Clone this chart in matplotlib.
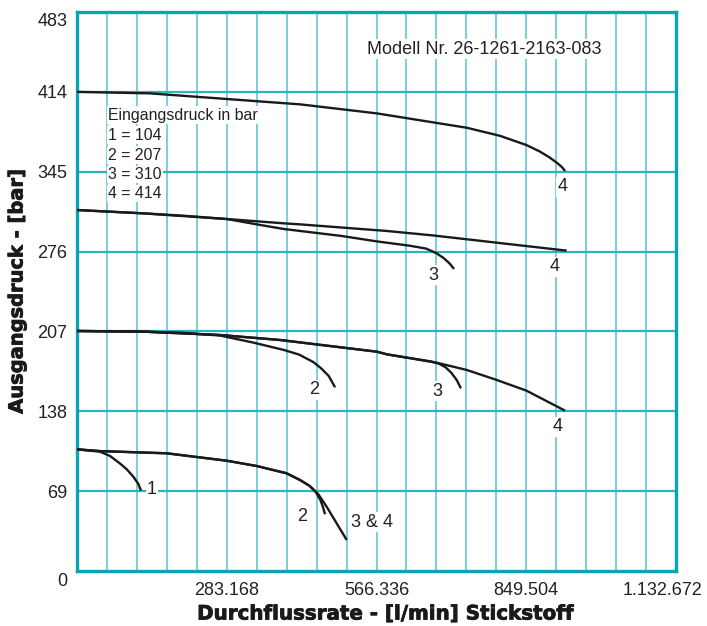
import matplotlib
matplotlib.use("Agg")
import matplotlib.pyplot as plt
import matplotlib.transforms as mtransforms
import matplotlib.patheffects as pe
import numpy as np

plt.rcParams['font.family'] = ['Liberation Sans', 'DejaVu Sans']

# ---- data (flow l/min, outlet pressure bar) ----
# inlet 414 bar
p414_4_x = [0, 138, 308, 422, 567, 737, 800, 850, 875, 893, 908, 917, 923]
p414_4_y = [414, 412.7, 407, 403.2, 395.4, 383, 376, 368, 362.5, 357.5, 352.5, 349, 345.6]
# inlet 310 bar
p310_4_x = [0, 126, 284, 391, 422, 586, 674, 926]
p310_4_y = [311.9, 309, 304.1, 300.4, 299.5, 293.8, 289.9, 276.8]
p310_3_x = [0, 126, 200, 284, 340, 391, 422, 500, 567, 630, 660, 680, 693, 704, 713]
p310_3_y = [311.9, 309, 307, 304.1, 299.5, 295.5, 293.8, 289.5, 284.8, 281, 278.6, 274.5, 270.5, 266, 261]
# inlet 207 bar
p207_4_x = [0, 126, 271, 384, 567, 586, 680, 737, 794, 850, 923]
p207_4_y = [207.4, 206.8, 203.9, 199.6, 189.5, 187.2, 180, 173.7, 165, 155.8, 138.5]
p207_3_x = [0, 126, 271, 384, 567, 586, 670, 685, 697, 708, 718, 726]
p207_3_y = [207.4, 206.8, 203.9, 199.6, 189.5, 187.2, 181, 179, 176, 171.2, 165, 157.8]
p207_2_x = [0, 126, 200, 271, 334, 391, 420, 447, 462, 476, 488]
p207_2_y = [207.4, 206.8, 205.8, 203.4, 197.3, 191, 187, 180.5, 175, 168.5, 158.7]
# inlet 104 bar
p104_34_x = [0, 43.5, 169.6, 283, 340, 396.5, 421.7, 440, 456, 472, 491, 510]
p104_34_y = [105.1, 103.6, 101.7, 95.3, 90.7, 84.4, 78.6, 73.5, 66.5, 55.6, 41.2, 26.8]
p104_2_x = [0, 43.5, 169.6, 283, 340, 396.5, 421.7, 440, 452, 460, 465, 469]
p104_2_y = [105.1, 103.6, 101.7, 95.3, 90.7, 84.4, 78.6, 73.5, 68, 61.5, 55.5, 49]
p104_1_x = [0, 43.5, 62.4, 81, 94, 106.5, 116, 121]
p104_1_y = [105.1, 103.1, 99.4, 93, 87.9, 81.5, 75.2, 69.4]

curves = [
    (p414_4_x, p414_4_y), (p310_4_x, p310_4_y), (p310_3_x, p310_3_y),
    (p207_4_x, p207_4_y), (p207_3_x, p207_3_y), (p207_2_x, p207_2_y),
    (p104_34_x, p104_34_y), (p104_2_x, p104_2_y), (p104_1_x, p104_1_y),
]

curve_labels = ["1", "2", "3 & 4", "2", "3", "4", "3", "4", "4"]
curve_label_x = [141.8, 425.5, 558, 448.8, 681.4, 908.3, 673.8, 904, 918.5]
curve_label_y = [70, 47.5, 42.3, 156.4, 155.5, 124.7, 255.7, 262.9, 332]

x_major = [283.168, 566.336, 849.504, 1132.672]
x_major_labels = ["283.168", "566.336", "849.504", "1.132.672"]
x_step = 56.6336
y_ticks = [0, 69, 138, 207, 276, 345, 414, 483]
y_tick_labels = ["0", "69", "138", "207", "276", "345", "414", "483"]

legend_lines = ["Eingangsdruck in bar", "1 = 104", "2 = 207", "3 = 310", "4 = 414"]
model_text = "Modell Nr. 26-1261-2163-083"

# ---- figure ----
W, H = 707, 626
fig = plt.figure(figsize=(W / 100, H / 100), dpi=100)
ax = fig.add_axes([77 / W, 1 - 571 / H, (676 - 77) / W, (571 - 12) / H])
ax.set_xlim(0, 1132.672)
ax.set_ylim(0, 483)

minor = [x_step * k for k in range(1, 20)]
ax.set_xticks(x_major)
ax.set_xticklabels(x_major_labels)
ax.set_xticks(minor, minor=True)
ax.set_yticks(y_ticks)
ax.set_yticklabels(y_tick_labels)

for xv in minor:
    ax.axvline(xv, color='#6fcdd5', lw=1.3, zorder=1)
for yv in y_ticks[1:-1]:
    ax.axhline(yv, color='#2cb4c0', lw=1.6, zorder=1)

for s in ax.spines.values():
    s.set_color('#0aa5b3')
    s.set_linewidth(2.4)

ax.tick_params(axis='both', which='both', length=0, labelsize=13, colors='#222222')
ax.tick_params(axis='y', pad=7)
ax.tick_params(axis='x', pad=8)

# shift end labels like in reference
yl = ax.get_yticklabels()
off_top = mtransforms.ScaledTranslation(0, -7 / 100, fig.dpi_scale_trans)
off_bot = mtransforms.ScaledTranslation(0, -9 / 100, fig.dpi_scale_trans)
yl[-1].set_transform(yl[-1].get_transform() + off_top)
yl[0].set_transform(yl[0].get_transform() + off_bot)
xl = ax.get_xticklabels()
xl[-1].set_transform(xl[-1].get_transform() + mtransforms.ScaledTranslation(-13 / 100, 0, fig.dpi_scale_trans))

for cx, cy in curves:
    ax.plot(cx, cy, color='#1a1a1a', lw=1.7, solid_capstyle='butt', solid_joinstyle='round',
            zorder=3, clip_on=False)

for t, lx, ly in zip(curve_labels, curve_label_x, curve_label_y):
    ax.text(lx, ly, t, fontsize=13, ha='center', va='center', color='#222222', zorder=4,
            bbox=dict(facecolor='white', edgecolor='none', pad=1.0))

leg_y = [394, 376.7, 359.4, 342.7, 326.3]
for t, ly in zip(legend_lines, leg_y):
    ax.text(58.6, ly, t, fontsize=11.4, ha='left', va='center', color='#222222', zorder=4,
            bbox=dict(facecolor='white', edgecolor='none', pad=0.8))

ax.text(769.7, 451, model_text, fontsize=13, ha='center', va='center', color='#222222', zorder=4,
        bbox=dict(facecolor='white', edgecolor='none', pad=1.0))

heavy = [pe.withStroke(linewidth=0.6, foreground='#1a1a1a')]
fig.text(385.5 / W, 1 - 614 / H, "Durchflussrate - [l/min] Stickstoff", fontsize=14.3,
         fontweight='bold', family='DejaVu Sans', ha='center', va='center', color='#1a1a1a',
         path_effects=heavy)
fig.text(17 / W, 1 - 291.5 / H, "Ausgangsdruck - [bar]", fontsize=14.0, rotation=90,
         fontweight='bold', family='DejaVu Sans', ha='center', va='center', color='#1a1a1a',
         path_effects=heavy)

fig.savefig("out.png", dpi=100, facecolor='white')
